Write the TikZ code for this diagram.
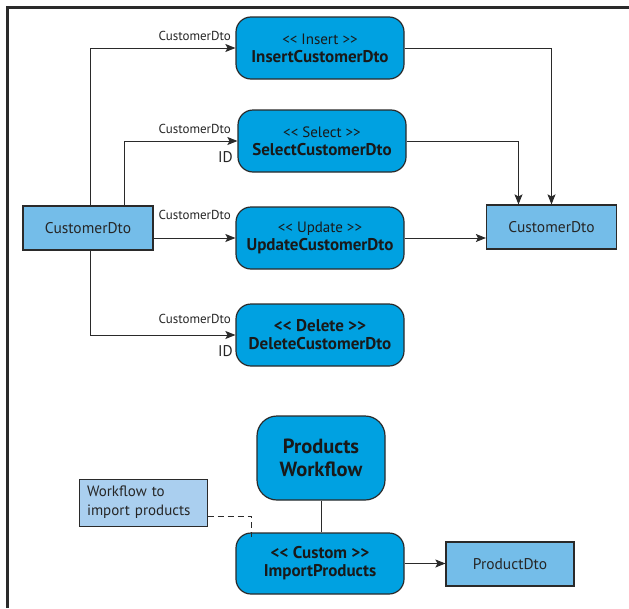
\documentclass[tikz,border=0pt]{standalone}
\usepackage{fontspec}
\setmainfont{PT Sans}
\usetikzlibrary{arrows.meta,calc}
\definecolor{opblue}{HTML}{00A1E1}
\definecolor{dtoblue}{HTML}{74BDE9}
\definecolor{noteblue}{HTML}{AACFEF}
\definecolor{edge}{HTML}{2A2A2A}
% guillemet-free angle brackets
\newcommand{\stl}{<{}<}
\newcommand{\str}{>{}>}
\tikzset{
  opbox/.style={draw=edge, line width=1.2pt, fill=opblue, rounded corners=15pt,
    minimum width=168pt, minimum height=62pt, align=center, inner sep=0pt,
    font=\fontsize{15}{18}\selectfont, text=black!90},
  dtobox/.style={draw=edge, line width=1.2pt, fill=dtoblue, minimum width=130pt,
    minimum height=44pt, inner sep=0pt, font=\fontsize{15.5}{18}\selectfont, text=black!85},
  notebox/.style={draw=edge, line width=1pt, fill=noteblue, minimum width=128pt,
    minimum height=47pt, inner sep=0pt, align=left, font=\fontsize{15}{19}\selectfont, text=black!85},
  lab/.style={font=\fontsize{13}{15}\selectfont, text=black!85, inner sep=0pt},
  idlab/.style={font=\fontsize{15.5}{18}\selectfont, text=black!85, inner sep=0pt},
  conn/.style={draw=edge, line width=0.9pt},
  arr/.style={conn, -{Stealth[length=10pt,width=8pt,inset=2pt]}},
}
\newcommand{\opname}[1]{{\fontsize{17}{18}\selectfont\bfseries #1}}
\begin{document}
\begin{tikzpicture}[x=1pt,y=-1pt]
\useasboundingbox (0,0) rectangle (629,608);
% outer frame (left and top edges)
\draw[edge, line width=2.4pt] (7.5,608) -- (7.5,7.5) -- (629,7.5);

% operation boxes
\node[opbox] (ins) at (320,48) {\stl{} Insert \str\\\opname{InsertCustomerDto}};
\node[opbox] (sel) at (322,141) {\stl{} Select \str\\\opname{SelectCustomerDto}};
\node[opbox] (upd) at (320,238) {\stl{} Update \str\\\opname{UpdateCustomerDto}};
\node[opbox] (del) at (320,335) {\opname{\stl{} Delete \str}\\\opname{DeleteCustomerDto}};

% data transfer objects
\node[dtobox] (lcd) at (88,228) {CustomerDto};
\node[dtobox] (rcd) at (551.5,227) {CustomerDto};

% workflow part
\node[opbox, rounded corners=20pt, minimum width=128pt, minimum height=84pt,
  font=\fontsize{20.5}{23}\selectfont\bfseries] (pw) at (321,458) {Products\\Workflow};
\node[notebox, text width=112pt] (note) at (143,502.5) {Workflow to\\import products};
\node[opbox, minimum height=61pt] (imp) at (320,563.5) {\opname{\stl{} Custom \str}\\\opname{ImportProducts}};
\node[dtobox, minimum width=128pt] (pdto) at (510,564) {ProductDto};

% inputs
\draw[arr] ($(lcd.north)+(2,0)$) |- (ins.west);
\draw[arr] ($(lcd.north)+(36,0)$) |- (sel.west);
\draw[arr] (lcd.east |- upd.west) -- (upd.west);
\draw[arr] ($(lcd.south)+(2,0)$) |- (del.west);

\node[lab, anchor=south east] (l1) at (231,41) {CustomerDto};
\node[lab, anchor=south east] (l2) at (231,134) {CustomerDto};
\node[lab, anchor=south east] (l3) at (231,220) {CustomerDto};
\node[lab, anchor=south east] (l4) at (231,324) {CustomerDto};
\node[idlab, anchor=east] (id1) at (233,157) {ID};
\node[idlab, anchor=east] (id2) at (233,351) {ID};

% outputs
\draw[arr] (ins.east) -| (rcd.north);
\draw[arr] (sel.east) -| ($(rcd.north)+(-33,0)$);
\draw[arr] (upd.east) -- (rcd.west |- upd.east);

% workflow links
\draw[conn] (pw.south) -- (imp.north -| pw.south);
\draw[conn, dashed, dash pattern=on 6pt off 4pt] ($(note.east)+(0,13.5)$) -| ($(imp.north west)+(16,5)$);
\draw[arr] (imp.east) -- (pdto.west |- imp.east);
\end{tikzpicture}
\end{document}
